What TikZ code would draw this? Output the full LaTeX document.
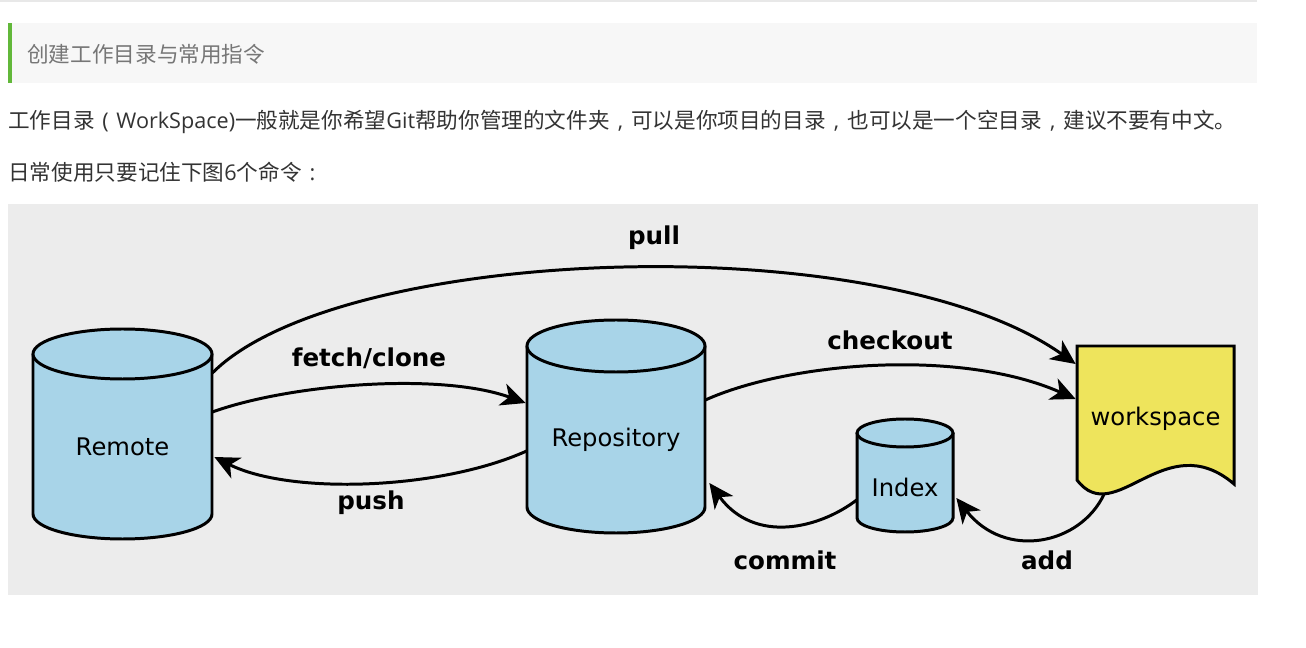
\documentclass[tikz,border=0pt]{standalone}
\usepackage{fontspec}
\setmainfont{DejaVu Sans}
\newfontfamily\cjk{Noto Sans CJK SC}
\newfontfamily\osans{Open Sans}
\usetikzlibrary{arrows.meta,calc,fit}
\definecolor{cylblue}{RGB}{168,212,232}
\definecolor{wsyellow}{RGB}{238,228,92}
\definecolor{diagbg}{RGB}{236,236,236}
\definecolor{headbg}{RGB}{247,247,247}
\definecolor{headbar}{RGB}{98,184,58}
\definecolor{headtext}{RGB}{118,118,118}
\definecolor{bodytext}{RGB}{51,51,51}
\definecolor{topline}{RGB}{232,232,232}
\newcommand\fwpunct[1]{\makebox[1em]{\osans #1}}
\newcommand\gitcyl[5]{%
  \fill[cylblue] (#1-#4,#2) -- (#1-#4,#3) arc[start angle=180,end angle=0,x radius=#4,y radius=#5] -- (#1+#4,#2) -- cycle;
  \draw[shapeline] (#1-#4,#2) -- (#1-#4,#3) arc[start angle=180,end angle=0,x radius=#4,y radius=#5] -- (#1+#4,#2);
  \filldraw[shapeline,fill=cylblue] (#1,#2) ellipse[x radius=#4,y radius=#5];
}
\begin{document}
\begin{tikzpicture}[x=0.02cm,y=-0.02cm,
  shapeline/.style={line width=1.7pt,draw=black},
  conn/.style={line width=1.7pt,-{Stealth[length=14pt,width=13pt,inset=4pt]}},
  shapebox/.style={inner sep=0pt},
  boxtext/.style={inner sep=0pt,font=\fontsize{13.8pt}{16pt}\selectfont},
  lbl/.style={inner sep=0pt,font=\bfseries\fontsize{14pt}{16pt}\selectfont},
  cjktext/.style={anchor=west,inner sep=0pt,font=\cjk\fontsize{12.3pt}{14pt}\selectfont}]
\useasboundingbox (0,0) rectangle (1306,648);
\fill[white] (0,0) rectangle (1306,648);
% page elements
\draw[topline,line width=1.1pt] (0,1) -- (1257,1);
\fill[headbg] (8,23) rectangle (1257,83);
\fill[headbar] (8,23) rectangle (12,83);
\node[cjktext,text=headtext] (title) at (27,54) {创建工作目录与常用指令};
\node[cjktext,text=bodytext] (para1) at (8,122) {工作目录\fwpunct{(}{\osans WorkSpace)}一般就是你希望{\osans Git}帮助你管理的文件夹\fwpunct{,}可以是你项目的目录\fwpunct{,}也可以是一个空目录\fwpunct{,}建议不要有中文。};
\node[cjktext,text=bodytext] (para2) at (8,172) {日常使用只要记住下图{\osans 6}个命令\fwpunct{:}};
% diagram background
\fill[diagbg] (8,204) rectangle (1258,595);
% cylinders
\gitcyl{122.5}{354}{514}{89.5}{25}
\node[fit={(33,354)(212,539)},shapebox,label={[boxtext]center:Remote}] (remote) {};
\gitcyl{616}{346}{507}{89}{26}
\node[fit={(527,346)(705,533)},shapebox,label={[boxtext]center:Repository}] (repo) {};
\gitcyl{905}{433}{518}{48}{14}
\node[fit={(857,433)(953,532)},shapebox,label={[boxtext,yshift=-3pt]center:Index}] (index) {};
% workspace
\filldraw[shapeline,fill=wsyellow] (1077,346) -- (1077,480) .. controls (1115,530) and (1165,425) .. (1234,484) -- (1234,346) -- cycle;
\node[fit={(1077,346)(1234,488)},shapebox,label={[boxtext,yshift=-1pt]center:workspace}] (ws) {};
% connectors
\draw[conn] ($(remote.east)+(0,-73.5)$) .. controls (340,245) and (880,225) .. ($(ws.west)+(-1,-53)$);
\draw[conn] ($(remote.east)+(0,-34.5)$) .. controls (290,384) and (440,372) .. ($(repo.west)+(-1,-36.5)$);
\draw[conn] ($(repo.west)+(0,11.5)$) .. controls (440,490) and (290,495) .. ($(remote.east)+(2,10.5)$);
\draw[conn] ($(repo.east)+(0,-39.5)$) .. controls (790,362) and (960,348) .. ($(ws.west)+(-1,-18)$);
\draw[conn] ($(index.west)+(0,17.5)$) .. controls (820,528) and (755,545) .. ($(repo.east)+(4,43.5)$);
\draw[conn] ($(ws.south)+(-51.5,6)$) .. controls (1080,545) and (1005,560) .. ($(index.east)+(3,15.5)$);
% labels
\node[lbl] (lpull) at (654,238) {pull};
\node[lbl] (lfetch) at (369,358) {fetch/clone};
\node[lbl] (lpush) at (371,503) {push};
\node[lbl] (lcheckout) at (890,340) {checkout};
\node[lbl] (lcommit) at (785,560) {commit};
\node[lbl] (ladd) at (1047,560) {add};
\end{tikzpicture}
\end{document}
